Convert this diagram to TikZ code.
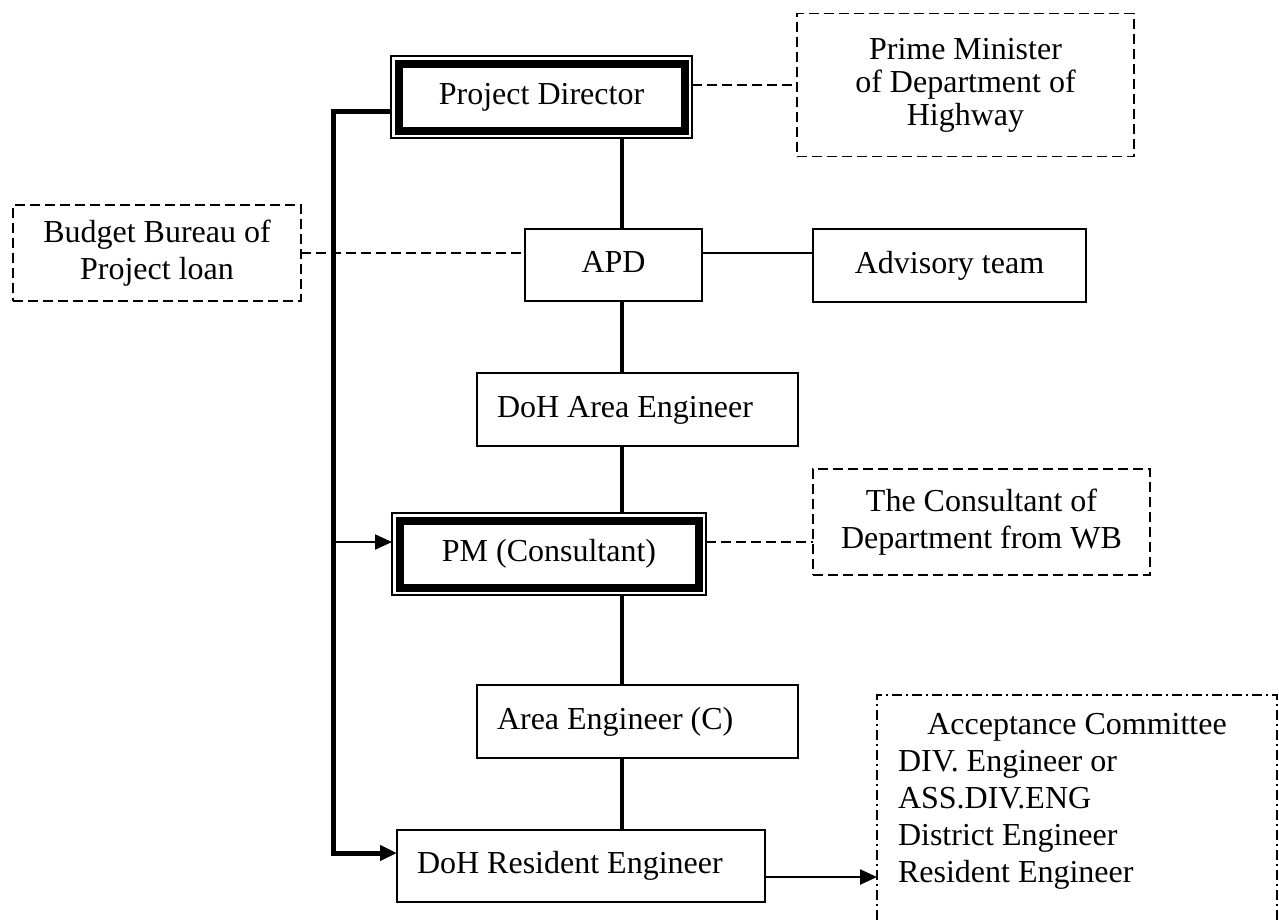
\documentclass[tikz,border=0pt]{standalone}
\usepackage{fontspec}
\setmainfont{Liberation Serif}
\usetikzlibrary{arrows.meta,calc}
\begin{document}
\begin{tikzpicture}[x=1pt,y=-1pt,
  every node/.style={font=\fontsize{32}{37}\selectfont, inner sep=0pt, outer sep=0pt},
  solidbox/.style 2 args={draw, line width=1.8pt, minimum width=#1, minimum height=#2, text height=22pt, text depth=7pt},
  dbox/.style 2 args={draw, line width=1.2pt, minimum width=#1, minimum height=#2, text height=22pt, text depth=7pt},
  dashbox/.style 2 args={draw, line width=1.8pt, dash pattern=on 10pt off 5pt, minimum width=#1, minimum height=#2, align=center},
  trunkline/.style={line width=3.5pt},
  thinline/.style={line width=1.8pt},
  dashline/.style={line width=1.8pt, dash pattern=on 10pt off 5pt},
  busline/.style={line width=5pt},
  arrowtip/.style={-{Triangle[length=17pt,width=15pt]}},
  dashdotline/.style={line width=1.8pt, dash pattern=on 10pt off 4pt on 2pt off 4pt},
  thickframe/.style={line width=8pt}
]
\useasboundingbox (0,0) rectangle (1279,922);
\fill[white] (0,0) rectangle (1279,922);
\clip (0,0) rectangle (1279,922);

% nodes
\node[dbox={301pt}{82pt}] (pd) at (541.5,97) {Project Director};
\node[dashbox={337pt}{143pt}, font=\fontsize{32}{33}\selectfont] (pmin) at (965.5,85) {Prime Minister\\of Department of\\Highway};
\node[dashbox={288pt}{96pt}] (bud) at (157,253) {Budget Bureau of\\Project loan};
\node[solidbox={177pt}{72pt}] (apd) at (613.5,265) {APD};
\node[solidbox={273pt}{73pt}] (adv) at (949.5,265.5) {Advisory team};
\node[solidbox={321pt}{73pt}, text width=281pt, align=flush left, inner xsep=20pt] (dae) at (637.5,409.5) {DoH Area Engineer};
\node[dbox={314pt}{82pt}] (pm) at (549,554) {PM (Consultant)};
\node[dashbox={337pt}{106pt}] (cons) at (981.5,522) {The Consultant of\\Department from WB};
\node[solidbox={321pt}{73pt}, text width=281pt, align=flush left, inner xsep=20pt] (aec) at (637.5,721.5) {Area Engineer (C)};
\node[solidbox={368pt}{72pt}, text width=328pt, align=flush left, inner xsep=20pt] (re) at (581,866) {DoH Resident Engineer};
\node[anchor=north west, text width=358pt, align=flush left, inner xsep=21pt, inner ysep=18pt] (acc) at (877,695) {\makebox[\hsize][c]{Acceptance Committee}\\DIV. Engineer or\\ASS.DIV.ENG\\District Engineer\\Resident Engineer};

% thick inner frames of the double-bordered boxes
\draw[thickframe] ($(pd.north west)+(7.5,7.5)$) rectangle ($(pd.south east)+(-7.5,-7.5)$);
\draw[thickframe] ($(pm.north west)+(7.5,7.5)$) rectangle ($(pm.south east)+(-7.5,-7.5)$);

% acceptance frame (open at the bottom)
\coordinate (below) at (0,940);
\draw[dashdotline] (acc.north west |- below) -- (acc.north west) -- (acc.north east) -- (acc.north east |- below);

% trunk
\coordinate (trunk) at (622,0);
\draw[trunkline] (pd.south -| trunk) -- (apd.north -| trunk);
\draw[trunkline] (apd.south -| trunk) -- (dae.north -| trunk);
\draw[trunkline] (dae.south -| trunk) -- (pm.north -| trunk);
\draw[trunkline] (pm.south -| trunk) -- (aec.north -| trunk);
\draw[trunkline] (aec.south -| trunk) -- (re.north -| trunk);

% side links
\draw[dashline] (pd.east |- pmin.west) -- (pmin.west);
\draw[dashline] (bud.east) -- (bud.east -| apd.west);
\coordinate (advy) at (0,253);
\draw[thinline] (apd.east |- advy) -- (adv.west |- advy);
\coordinate (consy) at (0,542);
\draw[dashline] (pm.east |- consy) -- (cons.west |- consy);

% bus on the left
\coordinate (busTop) at (333,111.5);
\coordinate (busBot) at (333,853);
\coordinate (busPM) at (333,542);
\draw[busline, arrowtip] (pd.west |- busTop) -- (busTop) -- (busBot) -- (re.west |- busBot);
\draw[line width=2pt, arrowtip] (busPM) -- (pm.west |- busPM);

% to acceptance committee
\coordinate (accy) at (0,877);
\draw[line width=2.5pt, arrowtip] (re.east |- accy) -- (acc.west |- accy);
\end{tikzpicture}
\end{document}
